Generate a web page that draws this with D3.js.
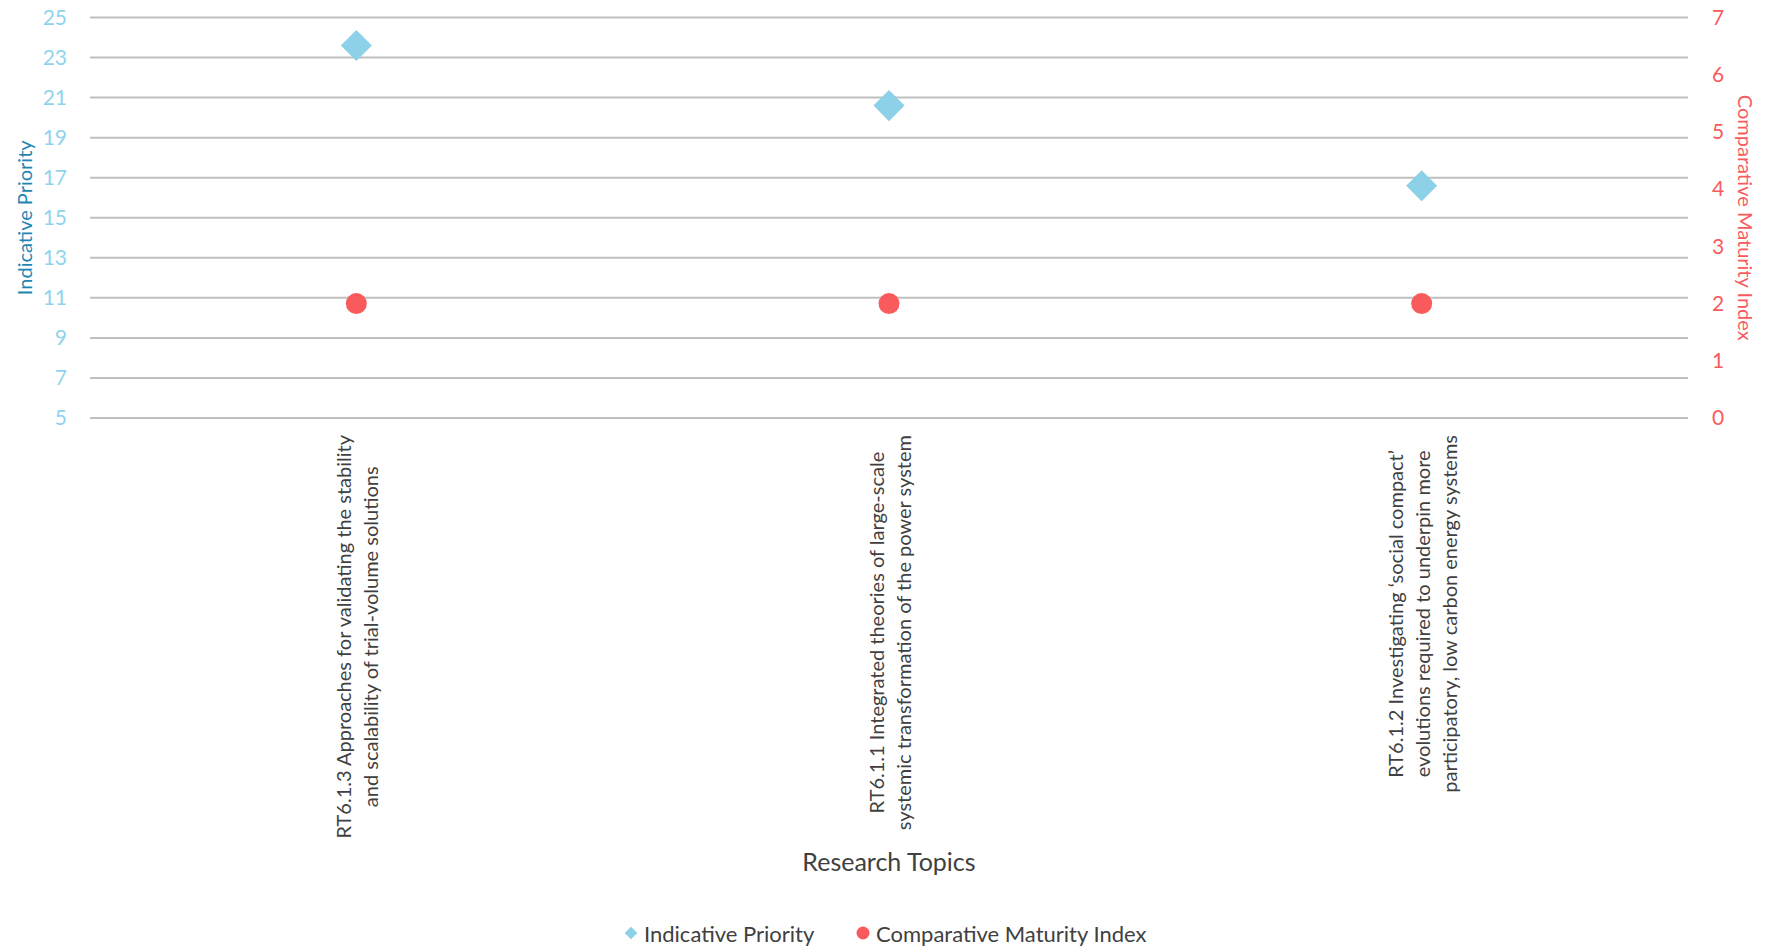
<!DOCTYPE html>
<html>
<head>
<meta charset="utf-8">
<script src="https://cdn.jsdelivr.net/npm/d3@7"></script>
<style>
  html, body { margin: 0; padding: 0; background: #fff; }
  svg { display: block; font-family: Lato, "Open Sans", sans-serif; }
</style>
</head>
<body>
<svg id="chart" width="1767" height="948"></svg>
<script>
// Research topics (line breaks as shown under the axis)
const categories = [
  "RT6.1.3 Approaches for validating the stability\nand scalability of trial-volume solutions",
  "RT6.1.1 Integrated theories of large-scale\nsystemic transformation of the power system",
  "RT6.1.2 Investigating \u2018social compact\u2019\nevolutions required to underpin more\nparticipatory, low carbon energy systems"
];
const priorityValues = [23.6, 20.6, 16.6];
const maturityValues = [2, 2, 2];
const leftTicks = [5, 7, 9, 11, 13, 15, 17, 19, 21, 23, 25];
const rightTicks = [0, 1, 2, 3, 4, 5, 6, 7];
const seriesNames = ["Indicative Priority", "Comparative Maturity Index"];

const W = 1767, H = 948;
const plot = { left: 90, right: 1688, top: 17.5, bottom: 418 };

const blueMark = "#8DD1E8", blueTick = "#8FD4EC", blueTitle = "#1F86B2";
const red = "#F95B5D";
const textDark = "#404040";

const svg = d3.select("#chart");

const x = d3.scaleBand().domain(d3.range(categories.length))
  .range([plot.left, plot.right]).paddingInner(0).paddingOuter(0);
const yL = d3.scaleLinear().domain([5, 25]).range([plot.bottom, plot.top]);
const yR = d3.scaleLinear().domain([0, 7]).range([plot.bottom, plot.top]);

// Gridlines from the primary axis
svg.append("g")
  .selectAll("line").data(leftTicks).join("line")
  .attr("x1", plot.left).attr("x2", plot.right)
  .attr("y1", d => yL(d)).attr("y2", d => yL(d))
  .attr("stroke", "#BFBFBF").attr("stroke-width", 2);

// Left axis
const gL = svg.append("g").attr("transform", `translate(${plot.left},0)`)
  .call(d3.axisLeft(yL).tickValues(leftTicks).tickSize(0).tickPadding(23)
    .tickFormat(d3.format("d")));
gL.select(".domain").remove();
gL.selectAll("text").attr("fill", blueTick).style("font-size", "21px")
  .style("font-family", "Lato, sans-serif");

// Right axis
const gR = svg.append("g").attr("transform", `translate(${plot.right},0)`)
  .call(d3.axisRight(yR).tickValues(rightTicks).tickSize(0).tickPadding(24)
    .tickFormat(d3.format("d")));
gR.select(".domain").remove();
gR.selectAll("text").attr("fill", red).style("font-size", "21px")
  .style("font-family", "Lato, sans-serif");

// Axis titles
svg.append("text")
  .attr("transform", `translate(24,${(plot.top + plot.bottom) / 2}) rotate(-90)`)
  .attr("text-anchor", "middle").attr("dominant-baseline", "central")
  .attr("fill", blueTitle).style("font-size", "20px")
  .text("Indicative Priority");

svg.append("text")
  .attr("transform", `translate(1746,${(plot.top + plot.bottom) / 2}) rotate(90)`)
  .attr("text-anchor", "middle").attr("dominant-baseline", "central")
  .attr("fill", red).style("font-size", "20px")
  .text("Comparative Maturity Index");

// Category labels, rotated, block ends just below the axis
const labelTop = 435;
const lineGap = 27;
categories.forEach((c, i) => {
  const lines = c.split("\n");
  const g = svg.append("g")
    .attr("transform", `translate(${x(i) + x.bandwidth() / 2},${labelTop}) rotate(-90)`);
  const texts = g.selectAll("text").data(lines).join("text")
    .attr("text-anchor", "middle").attr("dominant-baseline", "central")
    .attr("fill", textDark).style("font-size", "20px")
    .attr("y", (d, k) => (k - (lines.length - 1) / 2) * lineGap)
    .text(d => d);
  let maxW = 0;
  texts.each(function () { maxW = Math.max(maxW, this.getComputedTextLength()); });
  texts.attr("x", -maxW / 2);
});

// X axis title
svg.append("text")
  .attr("x", (plot.left + plot.right) / 2).attr("y", 861)
  .attr("text-anchor", "middle").attr("dominant-baseline", "central")
  .attr("fill", textDark).style("font-size", "25px")
  .text("Research Topics");

// Indicative Priority: diamonds on the left axis
const diamond = d3.symbol().type(d3.symbolSquare).size(22 * 22);
svg.append("g").selectAll("path").data(priorityValues).join("path")
  .attr("d", diamond)
  .attr("transform", (d, i) => `translate(${x(i) + x.bandwidth() / 2},${yL(d)}) rotate(45)`)
  .attr("fill", blueMark);

// Comparative Maturity Index: circles on the right axis
svg.append("g").selectAll("circle").data(maturityValues).join("circle")
  .attr("cx", (d, i) => x(i) + x.bandwidth() / 2)
  .attr("cy", d => yR(d))
  .attr("r", 10.5)
  .attr("fill", red);

// Legend
const legend = svg.append("g");
legend.append("path")
  .attr("d", d3.symbol().type(d3.symbolSquare).size(9 * 9))
  .attr("transform", "translate(631,933) rotate(45)")
  .attr("fill", blueMark);
legend.append("text").attr("x", 644).attr("y", 933)
  .attr("dominant-baseline", "central").attr("fill", textDark)
  .style("font-size", "22px").text(seriesNames[0]);
legend.append("circle").attr("cx", 863).attr("cy", 933).attr("r", 6.5).attr("fill", red);
legend.append("text").attr("x", 876).attr("y", 933)
  .attr("dominant-baseline", "central").attr("fill", textDark)
  .style("font-size", "22px").text(seriesNames[1]);
</script>
</body>
</html>
